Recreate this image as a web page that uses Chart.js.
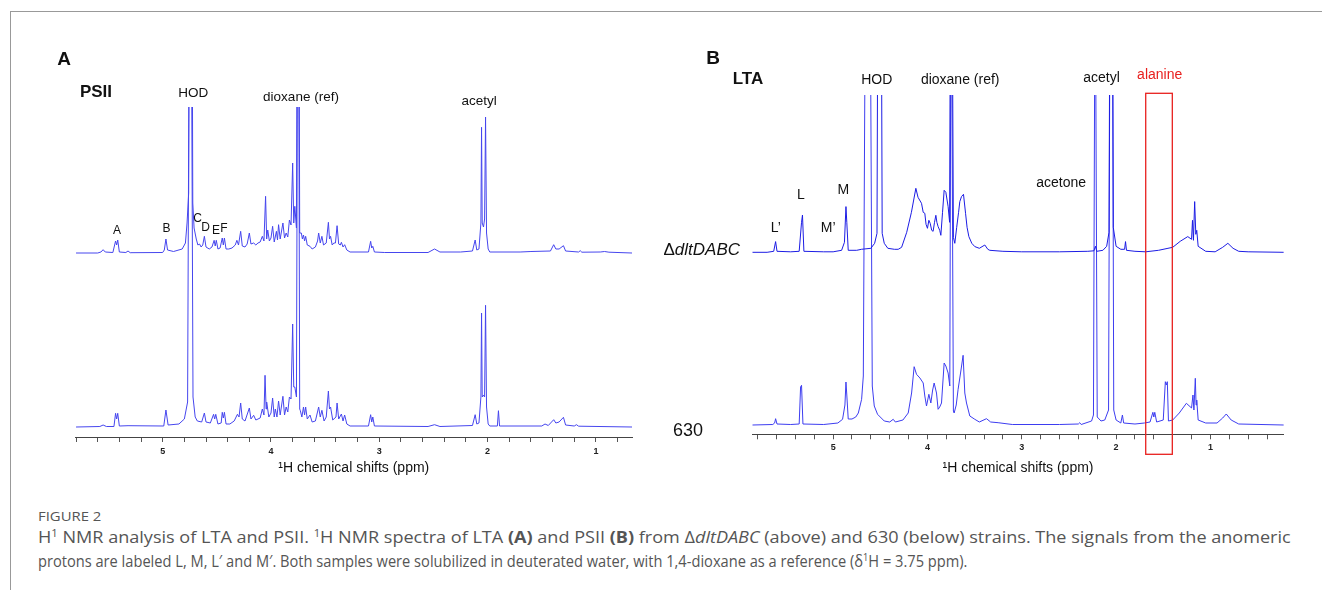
<!DOCTYPE html>
<html>
<head>
<meta charset="utf-8">
<script src="https://cdn.jsdelivr.net/npm/chart.js@4.4.1/dist/chart.umd.min.js"></script>
<style>
  body { margin: 0; background: #fff; width: 1322px; height: 590px; overflow: hidden; position: relative;
         font-family: "Liberation Sans", Arial, sans-serif; color: #111; }
  .frame { position: absolute; left: 10px; top: 11px; width: 1340px; height: 600px;
           border-left: 1px solid #999; border-top: 1px solid #999; }
  canvas { position: absolute; top: 0; }
  #chartA { left: 0; }
  #chartB { left: 660px; }
  .lbl { position: absolute; white-space: nowrap; transform: translate(-50%, -50%); line-height: 1; }
  .panel { font-weight: bold; font-size: 19px; }
  .title { font-weight: bold; font-size: 17px; }
  .strain { font-size: 18px; }
  .fig { position: absolute; left: 38px; top: 508px; font-family: "Open Sans", sans-serif; font-size: 13px;
         color: #555; line-height: 16px; white-space: nowrap; transform-origin: left center; }
  .cap { position: absolute; left: 38px; font-family: "Open Sans", sans-serif; font-size: 16px; color: #555;
         white-space: nowrap; line-height: 20px; transform-origin: left center; }
  .cap sup { font-size: 10px; line-height: 0; vertical-align: 6px; }
</style>
</head>
<body>
<div class="frame"></div>
<canvas id="chartA" width="660" height="490"></canvas>
<canvas id="chartB" width="662" height="490"></canvas>

<div class="lbl panel" style="left:64px;top:58px">A</div>
<div class="lbl title" style="left:96px;top:91px">PSII</div>
<div class="lbl panel" style="left:713px;top:57px">B</div>
<div class="lbl title" style="left:748px;top:78px">LTA</div>
<div class="lbl strain" style="left:740px;top:249px;font-size:17px;transform:translate(-100%,-50%)">Δ<i>dltDABC</i></div>
<div class="lbl strain" style="left:688px;top:430px">630</div>

<div class="fig" id="fig">FIGURE 2</div>
<div class="cap" id="cap1" style="top:527px">H<sup>1</sup> NMR analysis of LTA and PSII. <sup>1</sup>H NMR spectra of LTA <b>(A)</b> and PSII <b>(B)</b> from Δ<i>dltDABC</i> (above) and 630 (below) strains. The signals from the anomeric</div>
<div class="cap" id="cap2" style="top:551px">protons are labeled L, M, L′ and M′. Both samples were solubilized in deuterated water, with 1,4-dioxane as a reference (δ<sup>1</sup>H = 3.75 ppm).</div>

<script>
// tick marks every 0.2 ppm, labels on whole ppm
const ticksA = [5.8, 5.6, 5.4, 5.2, 5, 4.8, 4.6, 4.4, 4.2, 4, 3.8, 3.6, 3.4, 3.2, 3, 2.8, 2.6, 2.4, 2.2, 2, 1.8, 1.6, 1.4, 1.2, 1, 0.8];
const ticksB = [5.8, 5.6, 5.4, 5.2, 5, 4.8, 4.6, 4.4, 4.2, 4, 3.8, 3.6, 3.4, 3.2, 3, 2.8, 2.6, 2.4, 2.2, 2, 1.8, 1.6, 1.4, 1.2, 1, 0.8, 0.6, 0.4];
const tickLabels = [5, 4, 3, 2, 1];

// PSII, dltDABC (top trace) [ppm, intensity]
const psiiDlt = [
  [5.80, 0], [5.60, 0], [5.57, 1], [5.55, 3.3], [5.53, 1], [5.46, 0.5], [5.435, 12], [5.425, 8], [5.415, 13], [5.40, 1],
  [5.34, 0.5], [5.32, 2], [5.30, 0.3], [5.00, 0.5], [4.985, 3], [4.97, 14], [4.955, 3], [4.90, 1.5], [4.82, 4], [4.79, 10],
  [4.775, 30], [4.76, 60], [4.748, 500], [4.735, 500], [4.722, 50], [4.71, 25], [4.69, 14], [4.675, 8], [4.66, 9], [4.645, 6],
  [4.63, 8], [4.615, 16.7], [4.60, 6], [4.57, 4], [4.545, 6], [4.525, 12.7], [4.515, 7], [4.505, 12.7], [4.49, 4], [4.47, 5],
  [4.45, 15], [4.44, 8], [4.43, 15], [4.415, 4], [4.39, 4], [4.36, 5], [4.33, 8], [4.315, 12.7], [4.30, 8], [4.28, 21.7],
  [4.265, 7], [4.24, 6], [4.22, 9], [4.20, 20], [4.185, 9], [4.16, 10], [4.14, 8], [4.12, 10], [4.10, 11], [4.08, 16.7],
  [4.065, 12], [4.05, 56.7], [4.04, 14], [4.03, 23], [4.015, 12], [4.00, 15], [3.985, 26.7], [3.97, 11], [3.95, 21.7], [3.94, 13],
  [3.93, 28.3], [3.915, 14], [3.89, 30], [3.875, 15], [3.86, 20], [3.845, 16], [3.83, 33], [3.815, 28], [3.80, 90], [3.79, 30],
  [3.78, 46.7], [3.765, 25], [3.752, 500], [3.747, 500], [3.735, 20], [3.72, 20], [3.71, 14], [3.70, 18], [3.69, 12], [3.68, 16.7],
  [3.665, 8], [3.64, 6.7], [3.62, 4], [3.59, 6], [3.57, 12], [3.56, 20], [3.545, 10], [3.53, 16.7], [3.515, 8], [3.49, 10],
  [3.47, 30.7], [3.46, 14], [3.45, 16.7], [3.435, 8], [3.42, 10], [3.405, 10], [3.39, 27.3], [3.375, 9], [3.36, 8], [3.35, 10.7],
  [3.335, 6], [3.32, 8.3], [3.30, 3], [3.27, 1], [3.10, 1], [3.08, 11.7], [3.07, 5], [3.06, 6.7], [3.045, 1], [2.95, 0.5],
  [2.55, 0.5], [2.49, 4], [2.44, 1], [2.25, 1], [2.14, 2], [2.115, 13], [2.10, 3], [2.08, 4], [2.062, 30], [2.056, 125.7],
  [2.05, 30], [2.038, 26], [2.028, 34], [2.019, 136], [2.01, 20], [1.995, 4], [1.98, 1], [1.70, 1], [1.60, 1.5], [1.42, 2],
  [1.39, 8.3], [1.37, 4], [1.34, 4], [1.30, 7.3], [1.28, 2], [1.16, 1], [1.145, 2.3], [1.13, 0.8], [0.96, 1], [0.92, 1.5],
  [0.88, 0.8], [0.667, 0]
];

// PSII, strain 630 (bottom trace)
const psii630 = [
  [5.80, 0], [5.58, 0.5], [5.55, 2], [5.52, 0.5], [5.45, 0.5], [5.435, 13.7], [5.425, 8], [5.415, 13.7], [5.40, 1], [5.32, 1.3],
  [4.99, 1], [4.97, 17], [4.95, 2], [4.85, 3], [4.80, 8], [4.77, 25], [4.752, 500], [4.738, 500], [4.72, 30], [4.70, 10],
  [4.68, 6], [4.64, 5], [4.615, 14], [4.60, 5], [4.56, 4], [4.53, 12.7], [4.52, 8], [4.51, 12.7], [4.49, 3], [4.46, 4],
  [4.45, 14.7], [4.44, 9], [4.43, 14.7], [4.415, 3], [4.38, 3], [4.34, 6], [4.31, 12.7], [4.295, 10], [4.28, 24], [4.265, 8],
  [4.24, 6], [4.20, 19], [4.185, 8], [4.16, 11.7], [4.14, 7], [4.10, 9], [4.08, 18], [4.065, 12], [4.055, 51.7], [4.045, 18],
  [4.04, 25], [4.02, 10], [4.00, 14], [3.985, 29], [3.97, 10], [3.96, 18], [3.945, 10], [3.93, 26], [3.915, 12], [3.89, 30.7],
  [3.875, 12], [3.86, 20], [3.845, 15], [3.83, 30], [3.815, 28], [3.80, 103], [3.79, 40], [3.78, 40], [3.765, 30], [3.752, 500],
  [3.747, 500], [3.735, 18], [3.73, 16.7], [3.715, 10], [3.70, 20], [3.69, 12], [3.68, 20], [3.665, 8], [3.64, 12], [3.62, 5],
  [3.59, 6], [3.56, 20], [3.545, 10], [3.53, 16.7], [3.51, 6], [3.49, 10], [3.47, 36], [3.46, 18], [3.45, 20], [3.43, 7],
  [3.40, 10], [3.39, 24], [3.375, 8], [3.35, 13], [3.335, 6], [3.32, 12], [3.30, 3], [3.27, 1], [3.10, 1], [3.08, 12.3],
  [3.07, 5], [3.06, 10], [3.045, 1], [2.55, 0.5], [2.49, 2.3], [2.44, 0.5], [2.14, 1.5], [2.115, 12.3], [2.10, 3], [2.08, 4],
  [2.062, 30], [2.056, 114], [2.05, 30], [2.038, 32], [2.028, 30], [2.019, 121.7], [2.01, 20], [1.995, 3], [1.98, 1], [1.91, 1],
  [1.90, 16.3], [1.89, 1], [1.50, 1], [1.47, 3], [1.44, 1.5], [1.39, 7.3], [1.37, 4], [1.34, 5], [1.30, 9.7], [1.28, 2],
  [1.20, 1], [1.18, 2.3], [1.16, 0.8], [0.667, 0]
];

// LTA, dltDABC (top trace)
const ltaDlt = [
  [5.857, 0], [5.70, 0], [5.63, 1], [5.61, 10.7], [5.595, 1], [5.45, 0.5], [5.36, 1], [5.335, 30], [5.325, 37.3], [5.31, 1],
  [5.10, 0.5], [5.00, 0.5], [4.91, 2], [4.88, 10], [4.864, 45.7], [4.855, 30], [4.84, 2], [4.75, 2], [4.70, 3], [4.60, 4],
  [4.56, 9], [4.535, 19], [4.518, 500], [4.497, 500], [4.48, 19], [4.458, 9], [4.42, 4], [4.35, 3], [4.31, 3], [4.274, 5],
  [4.22, 20], [4.17, 40], [4.123, 64], [4.10, 55], [4.063, 49], [4.045, 40], [4.028, 39], [4.015, 28], [4.0, 24], [3.985, 32],
  [3.971, 29], [3.955, 22], [3.94, 21], [3.925, 30], [3.911, 37], [3.90, 30], [3.887, 25.7], [3.87, 22], [3.858, 17], [3.84, 40],
  [3.823, 62], [3.805, 60], [3.781, 45.7], [3.765, 30], [3.749, 500], [3.744, 500], [3.725, 15], [3.710, 9], [3.69, 25], [3.67, 40],
  [3.657, 50.7], [3.639, 55.7], [3.618, 58], [3.596, 39], [3.58, 25], [3.561, 15.7], [3.53, 9], [3.498, 5.7], [3.45, 4], [3.392, 7.3],
  [3.36, 3], [3.339, 2], [3.20, 1], [3.00, 0.5], [2.60, 0.5], [2.30, 1], [2.235, 1.5], [2.219, 6], [2.205, 1], [2.14, 2],
  [2.10, 6], [2.075, 20], [2.058, 500], [2.045, 500], [2.03, 25], [2.00, 6], [1.95, 3], [1.91, 3], [1.90, 10.7], [1.89, 2],
  [1.80, 1], [1.686, 0.5], [1.55, 2], [1.45, 4], [1.40, 5], [1.32, 11], [1.24, 15.7], [1.20, 13], [1.19, 32], [1.18, 12],
  [1.167, 50.7], [1.155, 18], [1.145, 22], [1.13, 6], [1.05, 1], [0.95, 0.5], [0.87, 5], [0.815, 9], [0.76, 4], [0.70, 1],
  [0.60, 0.5], [0.222, 0]
];

// LTA, strain 630 (bottom trace)
const lta630 = [
  [5.857, 0], [5.64, 0.5], [5.62, 2], [5.61, 6.3], [5.595, 1], [5.45, 0.5], [5.36, 1], [5.345, 38], [5.335, 39.7], [5.32, 1],
  [5.10, 0.5], [4.95, 2], [4.90, 5.7], [4.875, 20], [4.864, 43], [4.855, 30], [4.84, 6], [4.80, 6], [4.76, 8], [4.733, 12],
  [4.698, 25.7], [4.68, 49], [4.655, 500], [4.61, 500], [4.585, 39], [4.564, 19], [4.529, 10.7], [4.458, 4], [4.40, 3], [4.363, 5.7],
  [4.34, 3], [4.26, 5], [4.204, 12], [4.168, 32], [4.141, 58.3], [4.116, 50.7], [4.08, 47], [4.045, 42], [4.028, 29], [4.01, 19],
  [3.985, 30.7], [3.964, 22], [3.945, 35], [3.929, 42], [3.904, 32], [3.887, 15.7], [3.87, 18], [3.851, 22], [3.835, 45], [3.823, 62],
  [3.805, 59], [3.781, 52], [3.763, 39], [3.749, 500], [3.744, 500], [3.725, 14], [3.717, 12], [3.695, 20], [3.675, 35.7], [3.646, 54],
  [3.622, 69.7], [3.604, 32], [3.586, 22], [3.551, 9], [3.498, 5.7], [3.45, 3], [3.374, 6.3], [3.33, 3], [3.251, 2.3], [3.10, 0.5],
  [2.60, 0.5], [2.40, 1], [2.386, 2.3], [2.37, 0.5], [2.26, 4], [2.24, 10], [2.222, 500], [2.216, 500], [2.20, 8], [2.16, 4],
  [2.12, 5], [2.08, 15], [2.062, 500], [2.04, 500], [2.025, 15], [2.00, 5], [1.95, 2], [1.933, 10], [1.92, 2], [1.80, 1],
  [1.70, 2], [1.64, 3], [1.61, 12.7], [1.60, 8], [1.59, 12.7], [1.57, 3], [1.50, 5], [1.478, 43.3], [1.468, 40], [1.457, 43.3],
  [1.445, 4], [1.40, 5], [1.33, 12], [1.255, 21.7], [1.20, 17], [1.185, 30], [1.175, 15], [1.16, 46.7], [1.152, 20], [1.145, 25],
  [1.13, 5], [1.05, 2], [0.93, 2], [0.87, 7], [0.832, 11], [0.78, 5], [0.70, 1], [0.222, 0]
];

// peak annotations: text, ppm, height, font size
const notesA = [
  ['HOD', 4.717, 343.7, 13.5], ['dioxane (ref)', 3.723, 339.7, 13.5], ['acetyl', 2.079, 335.3, 13.5],
  ['A', 5.422, 206.3, 12], ['B', 4.965, 208, 12], ['C', 4.677, 218, 12], ['D', 4.603, 209.3, 12],
  ['E', 4.508, 206, 12], ['F', 4.434, 208.7, 12]
];
const notesB = [
  ['HOD', 4.538, 354.3, 14], ['dioxane (ref)', 3.653, 354.3, 14], ['acetyl', 2.155, 356.3, 14],
  ['alanine', 1.538, 359.3, 14, '#e8201e'], ['acetone', 2.582, 251.6, 14],
  ['L’', 5.609, 206.3, 14], ['L', 5.341, 239.3, 14], ['M’', 5.052, 206.3, 14], ['M', 4.893, 244.3, 14]
];
const alanineRange = [1.686, 1.404];

const FONT = '"Liberation Sans", Arial, sans-serif';

function trace(points, offset) {
  return points.map(p => ({ x: p[0], y: p[1] + offset }));
}

const notePlugin = {
  id: 'peakNotes',
  afterDatasetsDraw(chart, args, opts) {
    const ctx = chart.ctx, x = chart.scales.x, y = chart.scales.y;
    ctx.save();
    if (opts.box) {
      const x1 = x.getPixelForValue(opts.box[0]), x2 = x.getPixelForValue(opts.box[1]);
      const y1 = y.getPixelForValue(opts.box[2]), y2 = y.getPixelForValue(opts.box[3]);
      ctx.strokeStyle = '#e8201e';
      ctx.lineWidth = 1.3;
      ctx.strokeRect(x1, y1, x2 - x1, y2 - y1);
    }
    ctx.textAlign = 'center';
    ctx.textBaseline = 'middle';
    opts.notes.forEach(n => {
      ctx.font = n[3] + 'px ' + FONT;
      ctx.fillStyle = n[4] || '#111';
      ctx.fillText(n[0], x.getPixelForValue(n[1]), y.getPixelForValue(n[2]));
    });
    ctx.restore();
  }
};

function makeChart(id, sets, range, ticks, yMax, pad, axisH, labelPad, notes, box) {
  return new Chart(document.getElementById(id), {
    type: 'line',
    data: { datasets: sets },
    plugins: [notePlugin],
    options: {
      responsive: false,
      animation: false,
      devicePixelRatio: 1,
      layout: { padding: pad },
      elements: { point: { radius: 0 }, line: { tension: 0, borderWidth: 1 } },
      plugins: { legend: { display: false }, tooltip: { enabled: false }, peakNotes: { notes: notes, box: box } },
      scales: {
        x: {
          type: 'linear', reverse: true, min: range[1], max: range[0],
          afterBuildTicks: s => { s.ticks = ticks.map(v => ({ value: v })); },
          afterFit: s => { s.height = axisH; },
          border: { display: true, color: '#444', width: 1 },
          grid: { drawOnChartArea: false, drawTicks: true, tickLength: 5, color: '#555' },
          ticks: {
            autoSkip: false, maxRotation: 0, padding: labelPad, color: '#222',
            font: { family: FONT, size: 9, weight: 'bold' },
            callback: v => tickLabels.includes(v) ? String(v) : ''
          },
          title: { display: true, text: '¹H chemical shifts (ppm)', color: '#111', padding: 0,
                   font: { family: FONT, size: 14 } }
        },
        y: { display: false, min: 0, max: yMax }
      }
    }
  });
}

makeChart('chartA', [
  { data: trace(psiiDlt, 184), borderColor: '#4646ee' },
  { data: trace(psii630, 10), borderColor: '#4646ee' }
], [5.804, 0.667], ticksA, 330, { left: 75.6, right: 28, top: 107, bottom: 13 }, 40, 4, notesA, null);

makeChart('chartB', [
  { data: trace(ltaDlt, 182), borderColor: '#1c1ce4' },
  { data: trace(lta630, 9.3), borderColor: '#3d3df0' }
], [5.857, 0.222], ticksB, 339.3, { left: 92.3, right: 38.2, top: 95, bottom: 13.7 }, 42, 3, notesB,
  [alanineRange[0], alanineRange[1], 341, -20]);

// fit each caption line to its printed width
[['cap1', 1253], ['cap2', 929], ['fig', 63]].forEach(c => {
  const el = document.getElementById(c[0]);
  el.style.transform = 'scaleX(' + (c[1] / el.scrollWidth) + ')';
});
</script>
</body>
</html>
